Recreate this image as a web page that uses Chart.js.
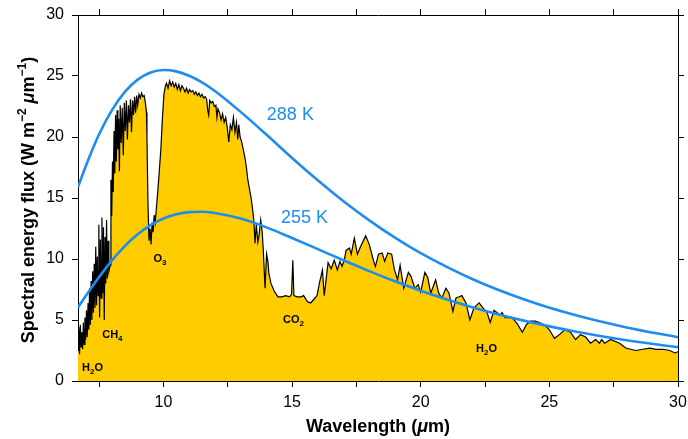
<!DOCTYPE html>
<html>
<head>
<meta charset="utf-8">
<script src="https://cdn.jsdelivr.net/npm/chart.js@4.4.1/dist/chart.umd.min.js"></script>
<style>
  html, body { margin: 0; padding: 0; background: #fff; }
  canvas { display: block; }
</style>
</head>
<body>
<canvas id="c" width="688" height="439"></canvas>
<script>
// ---------- DATA ----------
const xTickValues = [7.5, 10, 12.5, 15, 17.5, 20, 22.5, 25, 27.5, 30];
const yTickValues = [0, 5, 10, 15, 20, 25, 30];

const planckWl = [6.68, 7, 7.5, 8, 8.5, 9, 9.5, 10, 10.5, 11, 11.5, 12, 13, 14, 15, 16, 17, 18, 19, 20, 22, 24, 26, 28, 30];
const flux288K = [15.89, 17.71, 20.22, 22.20, 23.70, 24.70, 25.28, 25.49, 25.38, 25.02, 24.48, 23.77, 22.06, 20.20, 18.28, 16.45, 14.73, 13.17, 11.75, 10.48, 8.36, 6.70, 5.40, 4.39, 3.59];
const flux255K = [6.03, 7.03, 8.52, 9.89, 11.06, 12.02, 12.77, 13.32, 13.66, 13.84, 13.87, 13.77, 13.31, 12.59, 11.72, 10.81, 9.90, 9.01, 8.17, 7.40, 6.05, 4.95, 4.06, 3.34, 2.77];

const specWl = [
  6.68, 6.71, 6.74, 6.77, 6.80, 6.83, 6.86, 6.89, 6.92, 6.95, 6.98, 7.01, 7.04, 7.07, 7.10, 7.13, 7.16, 7.19, 7.22, 7.25,
  7.28, 7.31, 7.34, 7.37, 7.40, 7.43, 7.46, 7.49, 7.52, 7.55, 7.58, 7.61, 7.64, 7.67, 7.70, 7.73, 7.76, 7.79, 7.82, 7.85, 7.88,
  7.93, 7.96, 7.99, 8.02, 8.05, 8.08, 8.11, 8.14, 8.17, 8.20, 8.23, 8.26, 8.29, 8.32, 8.36, 8.40, 8.44, 8.48, 8.52, 8.56,
  8.60, 8.64, 8.68, 8.72, 8.76, 8.80, 8.84, 8.88, 8.92, 8.96, 9.00, 9.05, 9.10, 9.15, 9.20, 9.25, 9.30, 9.34,
  9.36, 9.40, 9.44, 9.48, 9.52, 9.56, 9.60, 9.64, 9.68, 9.72, 9.78, 9.84, 9.90, 9.96, 10.02, 10.08,
  10.12, 10.18, 10.24, 10.30, 10.36, 10.42, 10.48, 10.54, 10.60, 10.66, 10.72, 10.78, 10.84, 10.90, 10.96, 11.02, 11.08, 11.14,
  11.20, 11.26, 11.32, 11.38, 11.44, 11.50, 11.56, 11.62, 11.68, 11.72, 11.76, 11.80, 11.86, 11.92, 11.98, 12.04, 12.08, 12.12,
  12.18, 12.24, 12.30, 12.36, 12.42, 12.48, 12.54, 12.60, 12.66, 12.72, 12.78, 12.84, 12.89, 12.93, 12.98, 13.04, 13.10, 13.16,
  13.22, 13.28, 13.34, 13.40, 13.46, 13.52, 13.56, 13.61, 13.67, 13.72, 13.78, 13.84, 13.88, 13.95, 14.01, 14.06, 14.10, 14.18,
  14.30, 14.45,
  14.60, 14.75, 14.90, 14.98, 15.03, 15.07, 15.20, 15.35, 15.45, 15.60, 15.72, 15.85, 15.97, 16.06, 16.18, 16.25, 16.40, 16.52,
  16.64, 16.76, 16.86, 16.94, 17.03, 17.10, 17.23, 17.30, 17.42, 17.54, 17.66, 17.86, 18.00, 18.16, 18.24, 18.36, 18.50, 18.60,
  18.72, 18.87, 18.98, 19.10, 19.20, 19.34, 19.52, 19.62, 19.77, 19.90, 20.00, 20.16, 20.27, 20.39, 20.58, 20.70, 20.82, 20.98,
  21.10, 21.25, 21.37, 21.50, 21.60, 21.76, 21.91, 22.07, 22.27, 22.42, 22.58, 22.70, 22.85, 22.97, 23.09, 23.16, 23.28, 23.55,
  23.75, 23.95, 24.10, 24.26, 24.45, 24.61, 24.81, 25.00, 25.20, 25.39, 25.60, 25.82, 26.02, 26.21, 26.41, 26.60, 26.80, 26.95,
  27.03, 27.15, 27.38, 27.73, 27.97, 28.36, 28.63, 28.91, 29.14, 29.41, 29.68, 29.88, 30.00
];
const specFlux = [
  2.5, 4.4, 2.2, 4.6, 2.8, 4.0, 2.6, 4.8, 3.0, 5.2, 3.4, 5.8, 3.6, 6.4, 4.2, 7.6, 4.6, 8.2, 5.0, 9.0,
  5.6, 9.6, 6.0, 11.0, 6.2, 10.2, 7.0, 12.8, 5.2, 11.6, 6.8, 13.4, 7.2, 12.6, 5.0, 11.8, 8.0, 13.2, 8.4, 11.5, 9.0,
  9.5, 16.5, 13.5, 18.0, 15.5, 20.5, 17.0, 21.8, 18.0, 22.2, 19.0, 21.5, 17.2, 22.6, 19.5, 22.4, 18.5, 22.8, 20.5, 23.0,
  19.8, 22.6, 21.2, 23.1, 20.4, 23.0, 21.8, 23.3, 22.0, 23.4, 22.6, 23.5, 23.2, 23.6, 23.3, 23.4, 22.8, 22.0,
  20.0, 14.5, 11.5, 12.5, 11.2, 13.0, 12.2, 13.6, 13.0, 14.0, 15.5, 17.2, 19.0, 21.5, 23.5, 24.2,
  24.4, 24.0, 24.6, 24.2, 24.5, 24.1, 24.4, 23.9, 24.3, 23.8, 24.2, 24.0, 23.7, 24.0, 23.6, 23.9, 23.7, 23.8,
  23.5, 23.7, 23.4, 23.6, 23.3, 23.5, 23.2, 23.3, 23.1, 22.2, 21.8, 23.0, 22.8, 22.9, 22.5, 22.6, 21.6, 22.3,
  22.0, 21.4, 21.9, 21.2, 21.6, 20.8, 19.6, 21.0, 20.6, 21.6, 20.4, 21.2, 19.8, 21.0, 20.0, 19.6, 19.0, 18.4,
  17.6, 16.5, 15.8, 15.1, 14.2, 13.0, 11.3, 12.8, 11.4, 12.0, 13.2, 12.2, 10.8, 7.6, 10.4, 9.8, 8.8, 8.0,
  7.4, 6.9,
  6.9, 7.0, 6.9, 7.1, 9.9, 7.0, 6.9, 6.9, 7.0, 6.5, 6.4, 6.7, 7.0, 8.0, 9.1, 7.0, 9.7, 9.2,
  9.9, 9.1, 9.8, 9.4, 9.9, 10.7, 10.9, 10.4, 11.7, 10.4, 11.0, 11.9, 11.2, 9.9, 9.4, 10.4, 10.5, 9.8,
  10.5, 10.4, 9.1, 8.3, 9.5, 7.6, 8.9, 8.6, 7.6, 7.9, 7.3, 8.9, 8.5, 7.2, 8.3, 7.2, 6.8, 7.6,
  7.2, 5.7, 6.8, 6.9, 7.0, 6.4, 5.0, 6.0, 6.4, 6.0, 5.6, 4.8, 5.8, 5.6, 5.4, 5.6, 5.2, 5.2,
  4.7, 4.0, 4.6, 4.9, 4.9, 4.8, 4.6, 4.2, 3.5, 3.8, 4.2, 4.0, 3.4, 3.8, 3.6, 3.1, 3.4, 3.1,
  3.4, 3.1, 3.4, 3.1, 2.7, 2.5, 2.6, 2.7, 2.6, 2.6, 2.5, 2.3, 2.4
];

// text annotations (data coordinates)
const curveLabels = [
  { text: '288 K', x: 14.02, y: 21.4 },
  { text: '255 K', x: 14.57, y: 12.95 }
];
const gasLabels = [
  { parts: [['H', 0], ['2', 1], ['O', 0]], x: 6.84, y: 0.82 },
  { parts: [['CH', 0], ['4', 1]], x: 7.62, y: 3.52 },
  { parts: [['O', 0], ['3', 1]], x: 9.61, y: 9.75 },
  { parts: [['CO', 0], ['2', 1]], x: 14.65, y: 4.75 },
  { parts: [['H', 0], ['2', 1], ['O', 0]], x: 22.15, y: 2.38 }
];

// ---------- STYLE ----------
const FONT = '"Liberation Sans", Arial, Helvetica, sans-serif';
const BLUE = '#1f8cf0';
const GOLD = '#ffcc00';

const toXY = (xs, ys) => xs.map((x, i) => ({ x: x, y: ys[i] }));

function axisCommon(extra) {
  return Object.assign({
    type: 'linear',
    grid: { drawOnChartArea: false, drawTicks: true, tickLength: 6, color: '#000', lineWidth: 1 },
    border: { display: true, color: '#000', width: 1 }
  }, extra);
}
function noPad(s) { s.paddingLeft = 0; s.paddingRight = 0; s.paddingTop = 0; s.paddingBottom = 0; }

const annotPlugin = {
  id: 'annot',
  afterDatasetsDraw(chart) {
    const ctx = chart.ctx;
    const xs = chart.scales.x, ys = chart.scales.y;
    ctx.save();
    ctx.fillStyle = BLUE;
    ctx.font = '18px ' + FONT;
    ctx.textBaseline = 'alphabetic';
    ctx.textAlign = 'left';
    curveLabels.forEach(l => ctx.fillText(l.text, xs.getPixelForValue(l.x), ys.getPixelForValue(l.y)));

    ctx.fillStyle = '#000';
    gasLabels.forEach(g => {
      let px = xs.getPixelForValue(g.x);
      const py = ys.getPixelForValue(g.y);
      g.parts.forEach(([t, sub]) => {
        ctx.font = (sub ? 'bold 8px ' : 'bold 11px ') + FONT;
        ctx.fillText(t, px, py + (sub ? 3 : 0));
        px += ctx.measureText(t).width;
      });
    });
    ctx.restore();
  },
  afterDraw(chart) {
    const ctx = chart.ctx;
    const area = chart.chartArea;
    ctx.save();
    ctx.fillStyle = '#000';
    ctx.textBaseline = 'alphabetic';
    ctx.textAlign = 'left';
    // X title
    const xParts = [['Wavelength (', 'bold 18px'], ['\u03bc', 'italic bold 18px'], ['m)', 'bold 18px']];
    drawParts(ctx, xParts, (area.left + area.right) / 2, 432);
    // Y title (rotated)
    ctx.translate(27, (area.top + area.bottom) / 2 + 2);
    ctx.rotate(-Math.PI / 2);
    const yParts = [
      ['Spectral energy flux (W m', 'bold 18px', 0],
      ['\u22122', 'bold 12px', -8],
      [' ', 'bold 18px', 0],
      ['\u03bc', 'italic bold 18px', 0],
      ['m', 'bold 18px', 0],
      ['\u22121', 'bold 12px', -8],
      [')', 'bold 18px', 0]
    ];
    drawParts(ctx, yParts, 0, 6.5);
    ctx.restore();
  }
};

function drawParts(ctx, parts, cx, baseline) {
  let total = 0;
  parts.forEach(p => { ctx.font = p[1] + ' ' + FONT; total += ctx.measureText(p[0]).width; });
  let x = cx - total / 2;
  parts.forEach(p => {
    ctx.font = p[1] + ' ' + FONT;
    ctx.fillText(p[0], x, baseline + (p[2] || 0));
    x += ctx.measureText(p[0]).width;
  });
}

const tickFont = { family: FONT, size: 16 };

new Chart(document.getElementById('c').getContext('2d'), {
  type: 'line',
  data: {
    datasets: [
      { label: '288 K', data: toXY(planckWl, flux288K), borderColor: BLUE, borderWidth: 2.6, pointRadius: 0,
        fill: false, cubicInterpolationMode: 'monotone', order: 0 },
      { label: '255 K', data: toXY(planckWl, flux255K), borderColor: BLUE, borderWidth: 2.6, pointRadius: 0,
        fill: false, cubicInterpolationMode: 'monotone', order: 0 },
      { label: 'Spectrum', data: toXY(specWl, specFlux), borderColor: '#000', borderWidth: 1.2, pointRadius: 0,
        backgroundColor: GOLD, fill: 'origin', tension: 0, order: 1 }
    ]
  },
  options: {
    responsive: false,
    animation: false,
    events: [],
    layout: { padding: 0 },
    plugins: { legend: { display: false }, tooltip: { enabled: false } },
    scales: {
      x: axisCommon({
        position: 'bottom', min: 6.68, max: 30,
        afterBuildTicks: s => { s.ticks = xTickValues.map(v => ({ value: v })); },
        ticks: { autoSkip: false, maxRotation: 0, padding: 6, color: '#000', font: tickFont,
          callback: v => (v % 5 === 0 ? String(v) : '') },
        afterFit: s => { s.height = 58; noPad(s); }
      }),
      x2: axisCommon({
        position: 'top', min: 6.68, max: 30,
        afterBuildTicks: s => { s.ticks = xTickValues.map(v => ({ value: v })); },
        ticks: { autoSkip: false, maxRotation: 0, callback: () => '' },
        afterFit: s => { s.height = 15; noPad(s); }
      }),
      y: axisCommon({
        position: 'left', min: 0, max: 30,
        afterBuildTicks: s => { s.ticks = yTickValues.map(v => ({ value: v })); },
        ticks: { autoSkip: false, padding: 8, color: '#000', font: tickFont, callback: v => String(v) },
        afterFit: s => { s.width = 78; noPad(s); }
      }),
      y2: axisCommon({
        position: 'right', min: 0, max: 30,
        afterBuildTicks: s => { s.ticks = yTickValues.map(v => ({ value: v })); },
        ticks: { autoSkip: false, callback: () => '' },
        afterFit: s => { s.width = 10; noPad(s); }
      })
    }
  },
  plugins: [annotPlugin]
});
</script>
</body>
</html>
